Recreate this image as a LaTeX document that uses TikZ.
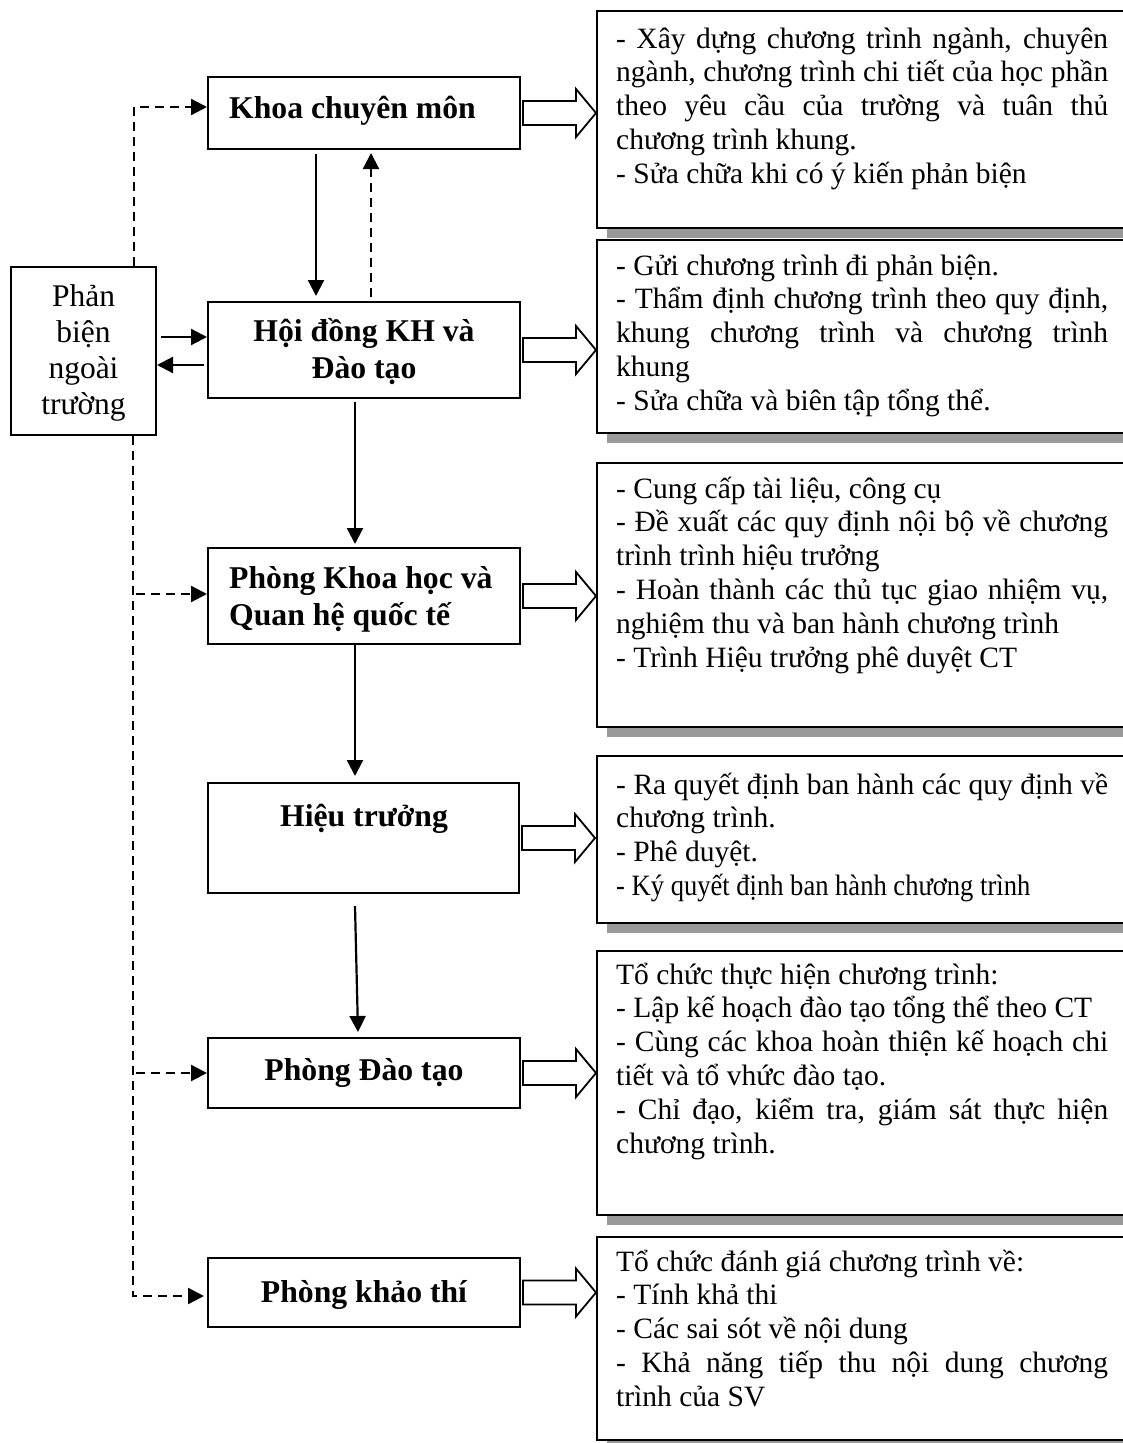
\documentclass[tikz,border=0pt]{standalone}
\usepackage{fontspec}
\setmainfont{Liberation Serif}
\usetikzlibrary{arrows.meta,calc,shadows}
\definecolor{shgray}{RGB}{153,153,153}
\newcommand{\jline}[1]{\makebox[\linewidth][s]{#1}}
\newcommand{\rtxt}{\fontsize{29.5pt}{33.8pt}\selectfont}
\newcommand{\btxt}{\fontsize{31.7pt}{37pt}\selectfont\bfseries}
\newcommand{\blockarrow}[1]{\draw[blk] ($(#1.east)+(2,-12)$) -- ++(53,0) -- ++(0,-12) -- ($(#1.east)+(75,0)$) -- ($(#1.east)+(55,24)$) -- ++(0,-12) -- ($(#1.east)+(2,12)$) -- cycle;}
\begin{document}
\begin{tikzpicture}[x=1pt,y=-1pt,
  lbox/.style={draw, line width=2pt, inner sep=0pt, fill=white},
  rbox/.style={draw, line width=2pt, inner sep=0pt, fill=white, general shadow={fill=shgray, shadow xshift=10pt, shadow yshift=-10pt}},
  txt/.style={inner sep=0pt, anchor=base west},
  ctxt/.style={inner sep=0pt, anchor=base},
  arr/.style={line width=2.2pt, -{Triangle[length=16pt,width=16pt]}},
  darr/.style={arr, dash pattern=on 9pt off 6pt},
  blk/.style={line width=1.8pt, fill=white, line join=miter}
]
\useasboundingbox (0,0) rectangle (1123,1443);
\clip (0,0) rectangle (1123,1443);
\fill[white] (0,0) rectangle (1123,1443);

% right description boxes
\node[rbox, minimum width=548pt, minimum height=217pt] (r1) at (871,119.5) {};
\node[rbox, minimum width=548pt, minimum height=193pt] (r2) at (871,336.5) {};
\node[rbox, minimum width=548pt, minimum height=264pt] (r3) at (871,595) {};
\node[rbox, minimum width=548pt, minimum height=167pt] (r4) at (871,839.5) {};
\node[rbox, minimum width=548pt, minimum height=264pt] (r5) at (871,1083) {};
\node[rbox, minimum width=548pt, minimum height=203pt] (r6) at (871,1338) {};

\node[txt] (t1) at (616,48) {\parbox[t]{492pt}{\rtxt
\jline{- Xây dựng chương trình ngành, chuyên}\\
\jline{ngành, chương trình chi tiết của học phần}\\
\jline{theo yêu cầu của trường và tuân thủ}\\
chương trình khung.\\
- Sửa chữa khi có ý kiến phản biện}};

\node[txt] (t2) at (616,275) {\parbox[t]{492pt}{\rtxt
- Gửi chương trình đi phản biện.\\
\jline{- Thẩm định chương trình theo quy định,}\\
\jline{khung chương trình và chương trình}\\
khung\\
- Sửa chữa và biên tập tổng thể.}};

\node[txt] (t3) at (616,498) {\parbox[t]{492pt}{\rtxt
- Cung cấp tài liệu, công cụ\\
\jline{- Đề xuất các quy định nội bộ về chương}\\
trình trình hiệu trưởng\\
\jline{- Hoàn thành các thủ tục giao nhiệm vụ,}\\
nghiệm thu và ban hành chương trình\\
- Trình Hiệu trưởng phê duyệt CT}};

\node[txt] (t4) at (616,794) {\parbox[t]{492pt}{\rtxt
\jline{- Ra quyết định ban hành các quy định về}\\
chương trình.\\
- Phê duyệt.\\
\scalebox{0.9}[1]{- Ký quyết định ban hành chương trình}}};

\node[txt] (t5) at (616,984) {\parbox[t]{492pt}{\rtxt
Tổ chức thực hiện chương trình:\\
- Lập kế hoạch đào tạo tổng thể theo CT\\
\jline{- Cùng các khoa hoàn thiện kế hoạch chi}\\
tiết và tổ vhức đào tạo.\\
\jline{- Chỉ đạo, kiểm tra, giám sát thực hiện}\\
chương trình.}};

\node[txt] (t6) at (616,1271) {\parbox[t]{492pt}{\rtxt
Tổ chức đánh giá chương trình về:\\
- Tính khả thi\\
- Các sai sót về nội dung\\
\jline{- Khả năng tiếp thu nội dung chương}\\
trình của SV}};

% left boxes
\node[lbox, minimum width=145pt, minimum height=168pt] (pb) at (83.5,351) {};
\node[lbox, minimum width=312pt, minimum height=72pt] (khoa) at (364,113) {};
\node[lbox, minimum width=312pt, minimum height=96pt] (hd) at (364,350) {};
\node[lbox, minimum width=312pt, minimum height=96pt] (pkh) at (364,596) {};
\node[lbox, minimum width=311pt, minimum height=110pt] (ht) at (363.5,838) {};
\node[lbox, minimum width=312pt, minimum height=70pt] (pdt) at (364,1073) {};
\node[lbox, minimum width=312pt, minimum height=69pt] (pkt) at (364,1292.5) {};

\node[ctxt] (pbt) at (83.5,306) {\parbox[t]{140pt}{\centering\fontsize{31.5pt}{36.3pt}\selectfont Phản\\biện\\ngoài\\trường}};
\node[txt] (khoat) at (229,118) {\btxt Khoa chuyên môn};
\node[ctxt] (hdt) at (364,341) {\parbox[t]{312pt}{\centering\btxt Hội đồng KH và\\Đào tạo}};
\node[txt] (pkht) at (229,588) {\parbox[t]{300pt}{\btxt Phòng Khoa học và\\Quan hệ quốc tế}};
\node[ctxt] (htt) at (364,826) {\btxt Hiệu trưởng};
\node[ctxt] (pdtt) at (364,1080) {\btxt Phòng Đào tạo};
\node[ctxt] (pktt) at (364,1302) {\btxt Phòng khảo thí};

% block arrows
\blockarrow{khoa}
\blockarrow{hd}
\blockarrow{pkh}
\blockarrow{ht}
\blockarrow{pdt}
\blockarrow{pkt}

% solid arrows
\draw[arr] ($(khoa.south)+(-48,4)$) -- ($(hd.north)+(-48,-5)$);
\draw[darr] ($(hd.north)+(7,-4)$) -- ($(khoa.south)+(7,3)$);
\draw[arr] ($(pb.east)+(4,-14)$) -- ($(hd.west)+(0,-13)$);
\draw[arr] ($(hd.west)+(-3,15)$) -- ($(pb.east)+(0,14)$);
\draw[arr] ($(hd.south)+(-9,3)$) -- ($(pkh.north)+(-9,-3)$);
\draw[arr] ($(pkh.south)+(-9,0)$) -- ($(ht.north)+(-8.5,-6)$);
\draw[arr] ($(ht.south)+(-8.5,12)$) -- ($(pdt.north)+(-6,-5)$);

% dashed review connections
\coordinate (dtop) at (134,107);
\coordinate (bend) at (133,1296);
\coordinate (b1) at (136,594);
\coordinate (b2) at (136,1073);
\draw[darr] ($(pb.north)+(50.5,0)$) -- (dtop) -- ($(khoa.west)+(0,-6)$);
\draw[darr] ($(pb.south)+(49.5,0)$) -- (bend) -- ($(pkt.west)+(-3,3.5)$);
\draw[darr] (b1) -- (pkh.west |- b1);
\draw[darr] (b2) -- (pdt.west |- b2);
\end{tikzpicture}
\end{document}
